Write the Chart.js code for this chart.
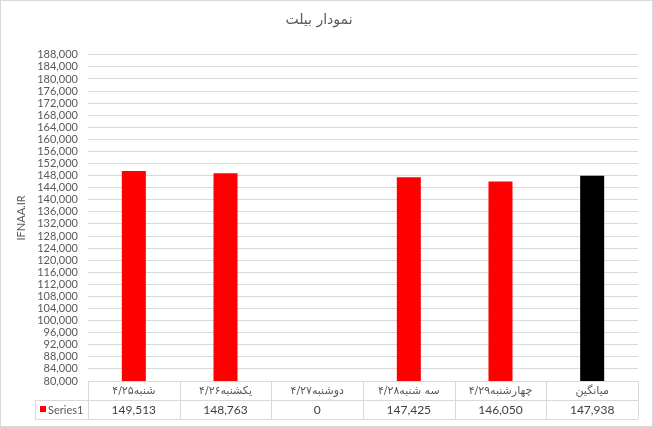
<!DOCTYPE html>
<html>
<head>
<meta charset="utf-8">
<script src="https://cdn.jsdelivr.net/npm/chart.js@4.4.1/dist/chart.umd.min.js"></script>
<style>
    html, body { margin: 0; padding: 0; background: #fff; }
    canvas { display: block; }
</style>
</head>
<body>
<canvas id="grafico" width="653" height="427"></canvas>
<script>
const categories = ["شنبه۴/۲۵", "یکشنبه۴/۲۶", "دوشنبه۴/۲۷", "سه شنبه۴/۲۸", "چهارشنبه۴/۲۹", "میانگین"];
const values = [149513, 148763, 0, 147425, 146050, 147938];
const barColors = ["#ff0000", "#ff0000", "#ff0000", "#ff0000", "#ff0000", "#000000"];
const seriesName = "Series1";
const chartTitle = "نمودار بیلت";
const yAxisTitle = "IFNAA.IR";
const yMin = 80000;
const yMax = 188000;
const yStep = 4000;

const fmt = v => Number(v).toLocaleString("en-US");

// data table under the plot, Excel style
const dataTablePlugin = {
    id: "dataTable",
    afterDraw(chart) {
        const ctx = chart.ctx;
        const xs = chart.scales.x;
        const { left, right, bottom } = chart.chartArea;
        const rowH = 19;
        const y0 = bottom, y1 = bottom + rowH, y2 = bottom + rowH * 2;
        const legendLeft = 35;

        ctx.save();
        ctx.strokeStyle = "#d9d9d9";
        ctx.lineWidth = 1;
        ctx.beginPath();
        // horizontal lines
        ctx.moveTo(left, y0 + 0.5); ctx.lineTo(right, y0 + 0.5);
        ctx.moveTo(legendLeft, y1 + 0.5); ctx.lineTo(right, y1 + 0.5);
        ctx.moveTo(legendLeft, y2 + 0.5); ctx.lineTo(right, y2 + 0.5);
        // vertical lines
        ctx.moveTo(legendLeft + 0.5, y1); ctx.lineTo(legendLeft + 0.5, y2);
        for (let i = 0; i <= categories.length; i++) {
            const x = Math.round(xs.getPixelForValue(i - 0.5)) + 0.5;
            ctx.moveTo(x, y0); ctx.lineTo(x, y2);
        }
        ctx.stroke();

        ctx.textAlign = "center";
        ctx.textBaseline = "middle";
        categories.forEach((cat, i) => {
            const cx = xs.getPixelForValue(i);
            ctx.direction = "rtl";
            ctx.font = "11px 'DejaVu Sans'";
            ctx.fillStyle = "#595959";
            ctx.fillText(cat, cx, y0 + rowH / 2 + 1);
            ctx.direction = "ltr";
            ctx.font = "12px Lato";
            ctx.fillStyle = "#404040";
            ctx.fillText(fmt(values[i]), cx, y1 + rowH / 2 + 1);
        });

        // legend key
        ctx.fillStyle = barColors[0];
        ctx.fillRect(40, y1 + 6, 6, 6);
        ctx.textAlign = "left";
        ctx.font = "11px Lato";
        ctx.fillStyle = "#595959";
        ctx.fillText(seriesName, 48, y1 + rowH / 2 + 1);

        // outer border of the chart
        ctx.strokeStyle = "#d9d9d9";
        ctx.strokeRect(0.5, 0.5, chart.width - 1, chart.height - 1);
        ctx.restore();
    }
};

const ctxGrafico = document.getElementById("grafico").getContext("2d");

new Chart(ctxGrafico, {
    type: "bar",
    data: {
        labels: categories,
        datasets: [{
            label: seriesName,
            data: values,
            backgroundColor: barColors,
            borderWidth: 0,
            barPercentage: 0.262,
            categoryPercentage: 1
        }]
    },
    options: {
        responsive: false,
        devicePixelRatio: 1,
        animation: false,
        layout: { padding: { top: 0, right: 15, bottom: 0, left: 0 } },
        plugins: {
            legend: { display: false },
            tooltip: { enabled: false },
            title: {
                display: true,
                text: chartTitle,
                color: "#595959",
                font: { family: "'DejaVu Sans'", size: 14, weight: "normal" },
                padding: { top: 12, bottom: 26 }
            }
        },
        scales: {
            x: {
                ticks: { display: false },
                grid: { display: false },
                border: { display: false },
                afterFit(scale) { scale.height = 46; }
            },
            y: {
                min: yMin,
                max: yMax,
                ticks: {
                    stepSize: yStep,
                    autoSkip: false,
                    padding: 10,
                    color: "#595959",
                    font: { family: "Lato", size: 11 },
                    callback: v => fmt(v)
                },
                grid: { color: "#d9d9d9", drawTicks: false },
                border: { display: false },
                title: {
                    display: true,
                    text: yAxisTitle,
                    color: "#595959",
                    font: { family: "Lato", size: 11 },
                    padding: { top: 15, bottom: 0 }
                },
                afterFit(scale) { scale.width = 88; }
            }
        }
    },
    plugins: [dataTablePlugin]
});
</script>
</body>
</html>
